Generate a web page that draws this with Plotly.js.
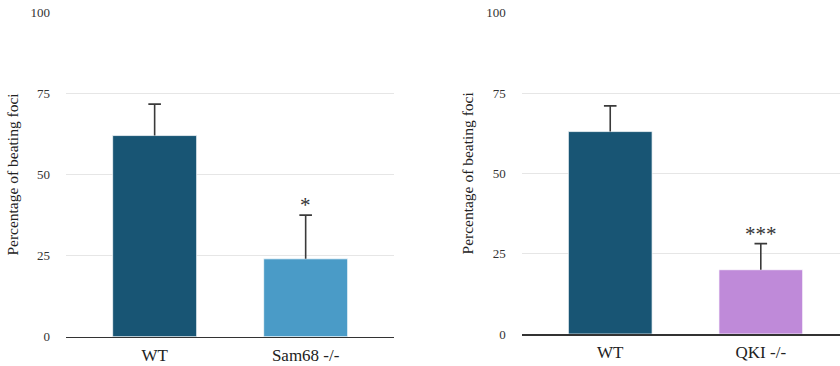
<!DOCTYPE html>
<html>
<head>
<meta charset="utf-8">
<script src="https://cdn.plot.ly/plotly-3.0.1.min.js"></script>
<style>html,body{margin:0;padding:0;background:#fff}#chart{width:840px;height:366px}</style>
</head>
<body>
<div id="chart"></div>
<script>
// Left panel data
const catsLeft = ["WT", "Sam68 -/-"];
const valsLeft = [62, 24];
const errsLeft = [9.7, 13.5];
const sigLeft = ["", "*"];
// Right panel data
const catsRight = ["WT", "QKI -/-"];
const valsRight = [63, 20];
const errsRight = [8, 8.1];
const sigRight = ["", "***"];
const yTicks = [0, 25, 50, 75, 100];
const yTitle = "Percentage of beating foci";

const FONT = "'Liberation Serif', 'Times New Roman', serif";
const colorsLeft = ["#185574", "#4a9bc7"];
const colorsRight = ["#185574", "#bf8ad9"];

function barTrace(cats, vals, colors, xa, ya) {
  return {
    type: "bar", x: cats, y: vals, xaxis: xa, yaxis: ya,
    width: 0.556,
    marker: {color: colors, line: {color: "rgba(255,255,255,0.7)", width: 1}},
    hoverinfo: "none", showlegend: false
  };
}
// error bars: upper whisker only, cap drawn as marker at top
function errTrace(cats, vals, errs, xa, ya) {
  return {
    type: "scatter", mode: "markers", x: cats, y: vals.map((v, i) => v + errs[i]),
    xaxis: xa, yaxis: ya,
    marker: {symbol: "line-ew-open", size: 9, line: {color: "#3a3a3a", width: 1.8}, color: "#3a3a3a"},
    error_y: {type: "data", symmetric: false, array: errs.map(() => 0), arrayminus: errs,
      visible: true, color: "#3a3a3a", thickness: 1.6, width: 0},
    hoverinfo: "none", showlegend: false
  };
}

const traces = [
  barTrace(catsLeft, valsLeft, colorsLeft, "x", "y"),
  barTrace(catsRight, valsRight, colorsRight, "x2", "y2"),
  errTrace(catsLeft, valsLeft, errsLeft, "x", "y"),
  errTrace(catsRight, valsRight, errsRight, "x2", "y2")
];

const annotations = [];
function addSig(cats, vals, errs, sig, xr, yr) {
  cats.forEach((c, i) => {
    if (!sig[i]) return;
    annotations.push({x: c, y: vals[i] + errs[i], xref: xr, yref: yr, text: sig[i],
      showarrow: false, yanchor: "bottom", yshift: -4,
      font: {family: FONT, size: 21, color: "#333"}});
  });
}
addSig(catsLeft, valsLeft, errsLeft, sigLeft, "x", "y");
addSig(catsRight, valsRight, errsRight, sigRight, "x2", "y2");

function yAxis(domain, anchor) {
  return {
    domain: domain, anchor: anchor, range: [0, 100], tickvals: yTicks, ticktext: yTicks.map(String),
    showgrid: true, gridcolor: "#e6e6e6", gridwidth: 1, zeroline: false, showline: false,
    ticks: "", ticklabelstandoff: 15,
    tickfont: {family: FONT, size: 13, color: "#333"},
    title: {text: yTitle, font: {family: FONT, size: 15.5, color: "#222"}, standoff: 8},
    fixedrange: true
  };
}
function xAxis(domain, anchor, range) {
  return {
    domain: domain, anchor: anchor, type: "category", range: range,
    showline: true, linecolor: "#333", linewidth: 1.6, showgrid: false, ticks: "",
    tickfont: {family: FONT, size: 17, color: "#222"}, ticklabelstandoff: 2,
    fixedrange: true
  };
}

const layout = {
  width: 840, height: 366,
  margin: {l: 0, r: 0, t: 0, b: 0},
  paper_bgcolor: "#fff", plot_bgcolor: "#fff",
  xaxis: xAxis([66/840, 394/840], "y", [-0.587, 1.585]),
  yaxis: yAxis([1 - 336.7/366, 1 - 12.3/366], "x"),
  xaxis2: xAxis([521.7/840, 1], "y2", [-0.588, 1.526]),
  yaxis2: yAxis([1 - 334/366, 1 - 12.7/366], "x2"),
  annotations: annotations
};

Plotly.newPlot("chart", traces, layout, {displayModeBar: false, staticPlot: true});
</script>
</body>
</html>
